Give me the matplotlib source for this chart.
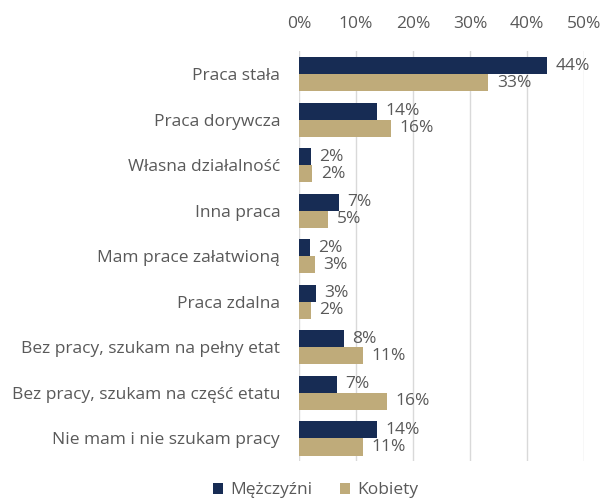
import matplotlib
matplotlib.use("Agg")
import matplotlib.pyplot as plt
import numpy as np
from matplotlib.ticker import PercentFormatter

categories = ["Praca stała", "Praca dorywcza", "Własna działalność", "Inna praca",
              "Mam prace załatwioną", "Praca zdalna", "Bez pracy, szukam na pełny etat",
              "Bez pracy, szukam na część etatu", "Nie mam i nie szukam pracy"]
men = [43.5, 13.7, 2.1, 7.0, 1.9, 3.0, 7.9, 6.7, 13.7]
women = [33.2, 16.1, 2.3, 5.1, 2.8, 2.1, 11.2, 15.4, 11.2]
men_labels = ["44%", "14%", "2%", "7%", "2%", "3%", "8%", "7%", "14%"]
women_labels = ["33%", "16%", "2%", "5%", "3%", "2%", "11%", "16%", "11%"]
series_names = ["Mężczyźni", "Kobiety"]

navy = "#172c54"
tan = "#bfab7a"
grey = "#595959"
fs = 12.5

plt.rcParams['font.family'] = ['Open Sans', 'DejaVu Sans']

fig = plt.figure(figsize=(6.01, 5.03), dpi=100)
ax = fig.add_axes([0.4975, 0.083, 0.474, 0.815])

y = np.arange(len(categories))
h = 0.375
ax.barh(y - h / 2, men, height=h, color=navy, label=series_names[0], zorder=3)
ax.barh(y + h / 2, women, height=h, color=tan, label=series_names[1], zorder=3)

for yi, v, t in zip(y, men, men_labels):
    ax.text(v + 1.5, yi - h / 2, t, va="center", ha="left", fontsize=fs, color=grey)
for yi, v, t in zip(y, women, women_labels):
    ax.text(v + 1.5, yi + h / 2, t, va="center", ha="left", fontsize=fs, color=grey)

ax.set_xlim(0, 50)
ax.set_ylim(len(categories) - 0.5, -0.5)
ax.set_yticks(y)
ax.set_yticklabels(categories, fontsize=fs, color=grey)
ax.set_xticks(np.arange(0, 51, 10))
ax.xaxis.set_major_formatter(PercentFormatter(decimals=0))
ax.xaxis.tick_top()
ax.tick_params(axis="x", labelsize=fs, colors=grey, length=0, pad=14)
ax.tick_params(axis="y", length=0, pad=13.5)
ax.grid(axis="x", color="#d9d9d9", linewidth=1, zorder=0)
for s in ax.spines.values():
    s.set_visible(False)

fig.legend(loc="lower center", bbox_to_anchor=(0.525, -0.022), ncol=2, frameon=False,
           fontsize=fs, handlelength=0.6, handleheight=0.6, columnspacing=1.6,
           handletextpad=0.4, labelcolor=grey)

fig.savefig("out.png", dpi=100)
